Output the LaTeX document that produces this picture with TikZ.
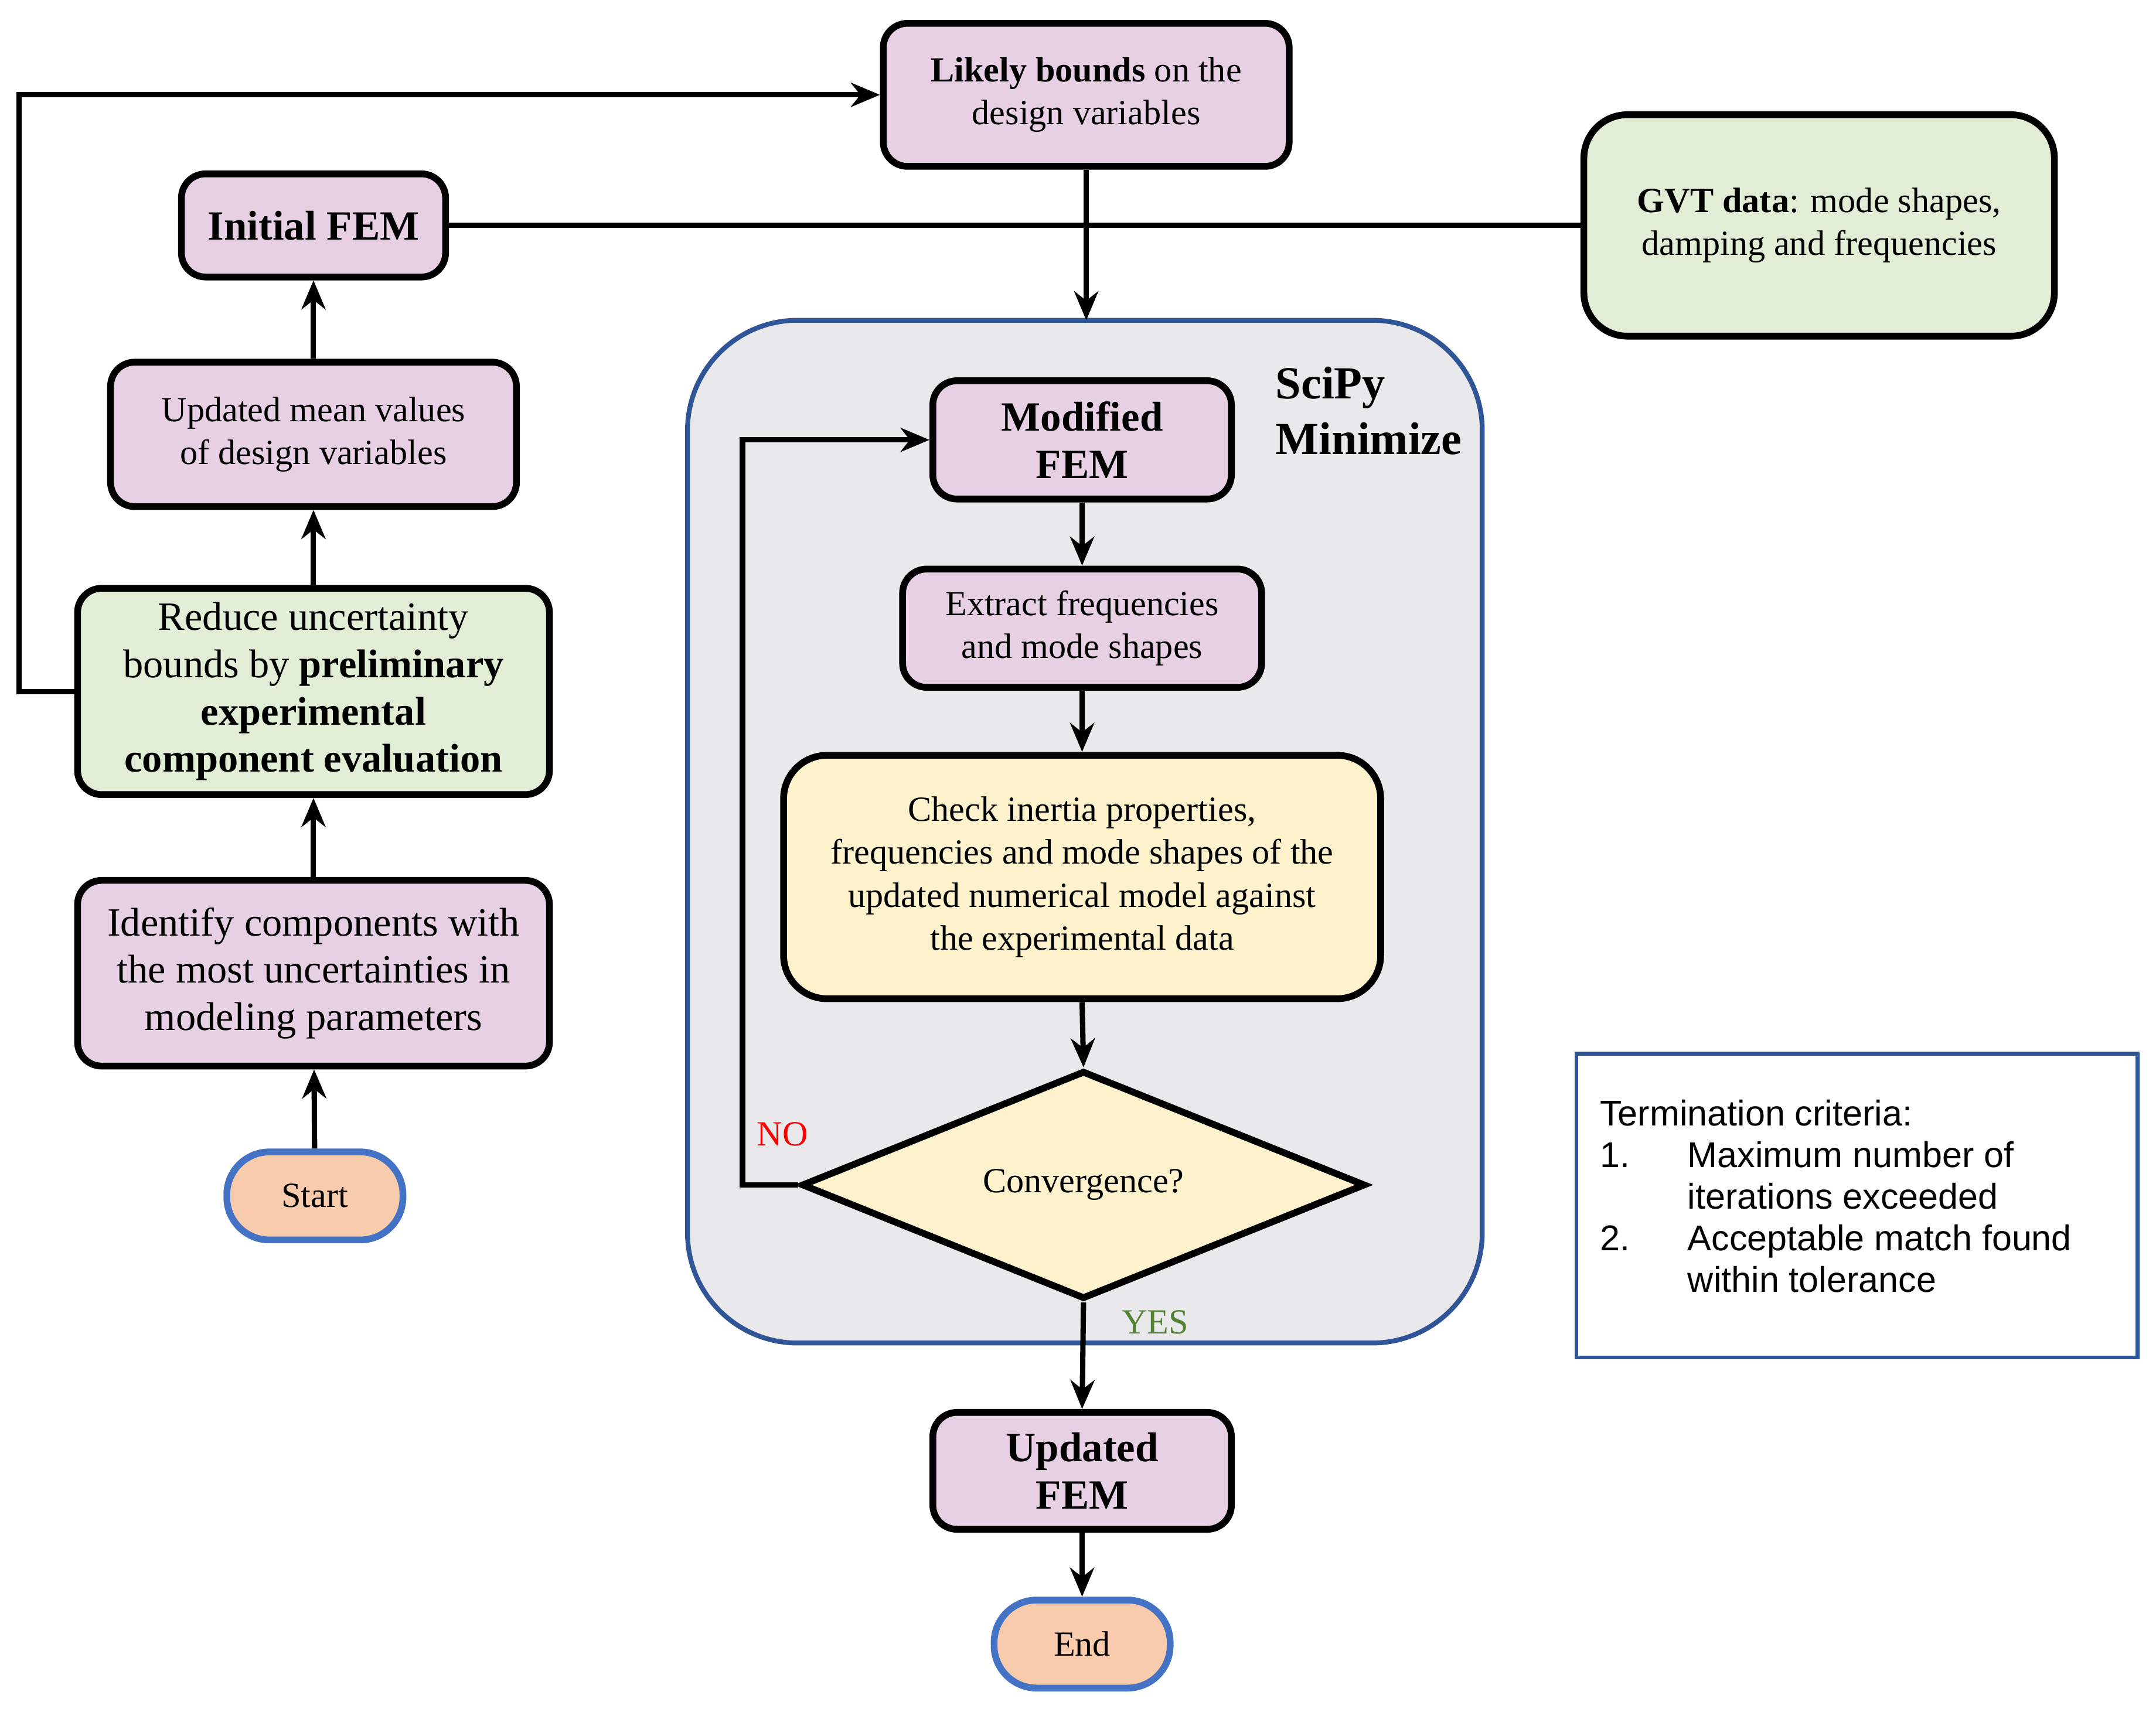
\documentclass[tikz,border=0pt]{standalone}
\usepackage{fontspec}
\setmainfont{Liberation Serif}
\newfontfamily\termfont{Liberation Sans}
\usetikzlibrary{arrows.meta,positioning,shapes.geometric}
\definecolor{boxpurple}{HTML}{E8D0E4}
\definecolor{boxgreen}{HTML}{E2EDD6}
\definecolor{boxyellow}{HTML}{FDF2CC}
\definecolor{boxorange}{HTML}{F8CBAD}
\definecolor{edgeblue}{HTML}{4472C4}
\definecolor{frameblue}{HTML}{2F5597}
\definecolor{framegray}{HTML}{E9E9EC}
\definecolor{yesgreen}{HTML}{548235}
\tikzset{
    >={Stealth[length=6pt,width=5pt]},
    flowbox/.style={draw,line width=1.4pt,rounded corners=5pt,align=center,inner sep=2pt},
    purplebox/.style={flowbox,fill=boxpurple},
    greenbox/.style={flowbox,fill=boxgreen},
    terminal/.style={draw=edgeblue,line width=1.4pt,fill=boxorange,rounded corners=0.31cm,minimum width=1.28cm,minimum height=0.64cm},
    link/.style={->,line width=1.1pt}
}
\begin{document}
\begin{tikzpicture}[x=0.01cm,y=-0.01cm,font=\fontsize{7.3}{8.9}\selectfont]
    \useasboundingbox (0,0) rectangle (1568,1243);

    % SciPy container
    \draw[frameblue,line width=1pt,fill=framegray,rounded corners=0.8cm] (500,233) rectangle (1078,977);
    \node[anchor=north west,align=left,font=\fontsize{9.5}{11.5}\selectfont\bfseries,inner sep=0pt] (scipy) at (927,266) {SciPy\\Minimize};

    % left column
    \node[purplebox,minimum width=2.95cm,minimum height=1.04cm] (likely) at (790,69) {\textbf{Likely bounds} on the\\design variables};
    \node[purplebox,minimum width=1.92cm,minimum height=0.75cm,font=\fontsize{8.6}{10}\selectfont\bfseries] (initial) at (228,164) {Initial FEM};
    \node[greenbox,minimum width=3.42cm,minimum height=1.61cm,rounded corners=9pt] (gvt) at (1323,164) {\textbf{GVT data}: mode shapes,\\damping and frequencies};
    \node[purplebox,minimum width=2.95cm,minimum height=1.05cm] (mean) at (228,316) {Updated mean values\\of design variables};
    \node[greenbox,minimum width=3.43cm,minimum height=1.5cm,font=\fontsize{8.3}{9.8}\selectfont] (reduce) at (228,503) {Reduce uncertainty\\bounds by \textbf{preliminary}\\\textbf{experimental}\\\textbf{component evaluation}};
    \node[purplebox,minimum width=3.43cm,minimum height=1.35cm,font=\fontsize{8.3}{9.8}\selectfont] (identify) at (228,708) {Identify components with\\the most uncertainties in\\modeling parameters};
    \node[terminal] (start) at (229,870) {Start};

    % optimisation loop
    \node[purplebox,minimum width=2.17cm,minimum height=0.86cm,font=\fontsize{8.6}{9.8}\selectfont\bfseries] (modified) at (787,320) {Modified\\FEM};
    \node[purplebox,minimum width=2.61cm,minimum height=0.86cm] (extract) at (787,457) {Extract frequencies\\and mode shapes};
    \node[flowbox,fill=boxyellow,rounded corners=9pt,minimum width=4.34cm,minimum height=1.77cm] (check) at (787,638) {Check inertia properties,\\frequencies and mode shapes of the\\updated numerical model against\\the experimental data};
    \node[draw,line width=1.4pt,fill=boxyellow,diamond,aspect=2.47,minimum width=4.1cm,minimum height=1.66cm,inner sep=0pt] (conv) at (788,862) {Convergence?};
    \node[purplebox,minimum width=2.17cm,minimum height=0.85cm,font=\fontsize{8.6}{9.8}\selectfont\bfseries] (updated) at (787,1070) {Updated\\FEM};
    \node[terminal] (stop) at (787,1196) {End};

    % termination criteria
    \node[draw=frameblue,line width=0.8pt,minimum width=4.08cm,minimum height=2.21cm,anchor=north west,inner sep=0pt] (crit) at (1145,765) {};
    \node[anchor=north west,align=left,font=\termfont\fontsize{7.4}{8.6}\selectfont,inner sep=0pt] (critext) at (1163,797)
        {\begin{tabular}{@{}l@{\hspace{0.42cm}}l@{}}
         \multicolumn{2}{@{}l}{Termination criteria:}\\
         1. & Maximum number of\\
            & iterations exceeded\\
         2. & Acceptable match found\\
            & within tolerance
         \end{tabular}};

    \coordinate (loopleft) at (540,862);
    \coordinate (loopup) at (540,320);
    \coordinate (farleft) at (14,503);
    \coordinate (fartop) at (14,69);

    \draw[link] (start) -- (identify);
    \draw[link] (identify) -- (reduce);
    \draw[link] (reduce) -- (mean);
    \draw[link] (mean) -- (initial);
    \draw[link] (reduce.west) -- (farleft) -- (fartop) -- (likely.west);
    \draw[line width=1.1pt] (initial.east) -- (gvt.west);
    \draw[link] (likely.south) -- (790,233);
    \draw[link] (modified) -- (extract);
    \draw[link] (extract) -- (check);
    \draw[link] (check.south) -- (conv.north);
    \draw[link] (conv.west) -- (loopleft) -- (loopup) -- (modified.west);
    \draw[link] (conv.south) -- (updated.north);
    \draw[link] (updated) -- (stop);

    \node[text=red] (nolabel) at (569,825) {NO};
    \node[text=yesgreen] (yeslabel) at (840,962) {YES};
\end{tikzpicture}
\end{document}
